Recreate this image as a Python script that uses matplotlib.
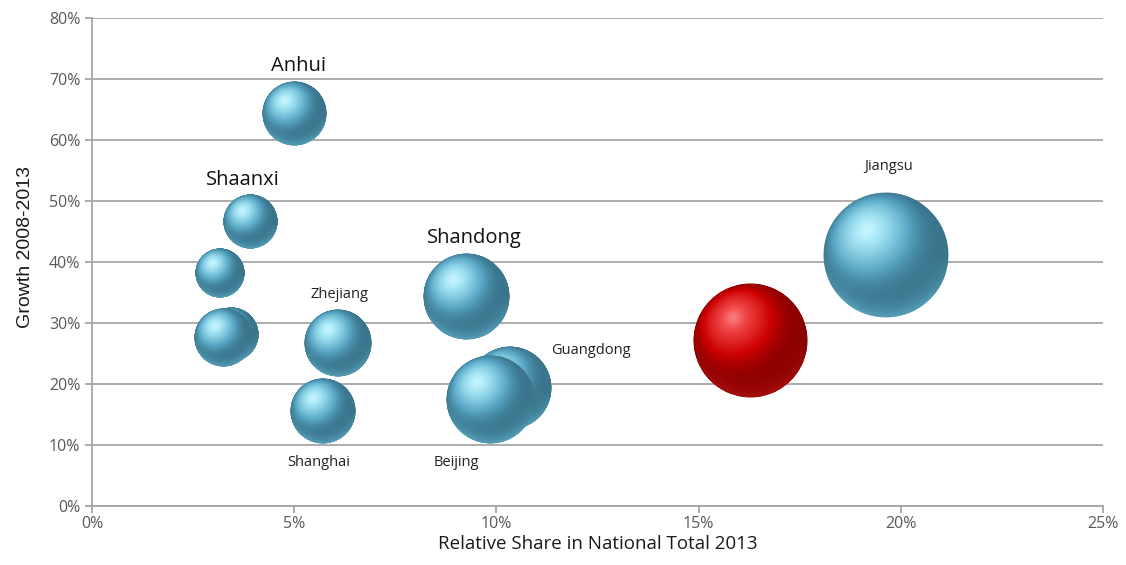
import numpy as np
import matplotlib
matplotlib.use("Agg")
import matplotlib.pyplot as plt
from matplotlib.offsetbox import OffsetImage, AnnotationBbox
from matplotlib.ticker import FuncFormatter

# data: relative share (%), growth (%), bubble size (relative), label
share = [5.0, 3.9, 3.17, 3.45, 3.25, 6.08, 5.7, 9.25, 10.34, 9.84, 16.27, 19.63]
growth = [64.4, 46.6, 38.2, 28.0, 27.5, 26.7, 15.6, 34.3, 19.3, 17.4, 27.0, 41.1]
bubble_size = [26.6, 18.4, 15.7, 18.4, 21.2, 29.1, 27.4, 46.6, 44.4, 48.8, 81.9, 100.0]
labels = ["Anhui", "Shaanxi", "", "", "", "Zhejiang", "Shanghai", "Shandong",
          "Guangdong", "Beijing", "", "Jiangsu"]
highlight = [False] * 10 + [True, False]

big_labels = {"Anhui": (3, 34), "Shaanxi": (-5, 30), "Shandong": (6, 42)}
small_labels = {"Zhejiang": (1, 35), "Guangdong": (58, 27), "Shanghai": (-3, -37),
                "Beijing": (-24, -45), "Jiangsu": (2, 64)}

DPI = 100
MAX_R_PX = 63  # radius of the largest bubble in pixels


def sphere_image(dark, base, light, rimc, n=256):
    dark, base, light, rimc = (np.array(c, float) / 255 for c in (dark, base, light, rimc))
    u = np.linspace(-1, 1, n)
    X, Y = np.meshgrid(u, -u)
    rr = np.sqrt(X ** 2 + Y ** 2)
    Z = np.sqrt(np.clip(1 - rr ** 2, 0, 1))
    L = np.array([-0.3, 0.4, 0.866])
    d = np.clip(X * L[0] + Y * L[1] + Z * L[2], 0, 1)
    t = (0.25 + 0.75 * d ** 4.5)[..., None]
    col = np.where(t < 0.5, dark + (base - dark) * (t / 0.5),
                   base + (light - base) * ((t - 0.5) / 0.5))
    spec = (d ** 90)[..., None] * 0.25
    col = col + (1 - col) * spec
    # soft reflected rim at the bottom
    rim = (np.clip(rr, 0, 1) ** 5 * np.clip(-Y * 1.3, 0, 1))[..., None] * 0.6
    col = col + (rimc - col) * rim
    alpha = np.clip((1 - rr) * n / 2.5, 0, 1)
    return np.dstack([np.clip(col, 0, 1), alpha])


blue_img = sphere_image((26, 66, 84), (90, 168, 198), (178, 240, 253), (105, 190, 215))
red_img = sphere_image((75, 0, 0), (205, 0, 0), (245, 80, 80), (185, 25, 25))

fig = plt.figure(figsize=(11.26, 5.65), dpi=DPI)
ax = fig.add_axes([0.0817, 0.1044, 0.8979, 0.8636])

ax.set_xlim(0, 25)
ax.set_ylim(0, 80)
ax.set_xticks(np.arange(0, 26, 5))
ax.set_yticks(np.arange(0, 81, 10))
ax.yaxis.set_major_formatter(FuncFormatter(lambda v, p: f"{v:.0f}%"))
ax.xaxis.set_major_formatter(FuncFormatter(lambda v, p: f"{v:.0f}%"))
ax.grid(axis="y", color="#a6a6a6", linewidth=1.3)
ax.set_axisbelow(True)
for s in ["top", "right"]:
    ax.spines[s].set_visible(False)
for s in ["left", "bottom"]:
    ax.spines[s].set_color("#a6a6a6")
    ax.spines[s].set_linewidth(1.3)
ax.tick_params(axis="both", colors="#a6a6a6", length=5, width=1.3, labelsize=11.5,
               labelcolor="#595959")
ax.tick_params(axis="x", pad=2)
for lab in ax.get_xticklabels() + ax.get_yticklabels():
    lab.set_family("Open Sans")

n_img = blue_img.shape[0]
for i in range(len(share)):
    r_px = MAX_R_PX * np.sqrt(bubble_size[i] / 100.0)
    zoom = 2 * r_px / n_img * 72 / DPI
    img = red_img if highlight[i] else blue_img
    ab = AnnotationBbox(OffsetImage(img, zoom=zoom, interpolation="antialiased"),
                        (share[i], growth[i]), frameon=False, pad=0, zorder=3 + i)
    ax.add_artist(ab)

for i, name in enumerate(labels):
    if name in big_labels:
        ax.annotate(name, (share[i], growth[i]), xytext=big_labels[name],
                    textcoords="offset points", ha="center", va="center",
                    fontsize=14.5, family="Open Sans", color="#111111", zorder=20)
    elif name in small_labels:
        ax.annotate(name, (share[i], growth[i]), xytext=small_labels[name],
                    textcoords="offset points", ha="center", va="center",
                    fontsize=10.5, family="Open Sans", color="#222222", zorder=20)

ax.set_xlabel("Relative Share in National Total 2013", fontsize=13.5, family="Open Sans",
              color="#1a1a1a", labelpad=2)
ax.set_ylabel("Growth 2008-2013", fontsize=14, family="Liberation Sans",
              color="#1a1a1a")
ax.yaxis.set_label_coords(-0.057, 0.53)

fig.savefig("out.png", dpi=DPI)
